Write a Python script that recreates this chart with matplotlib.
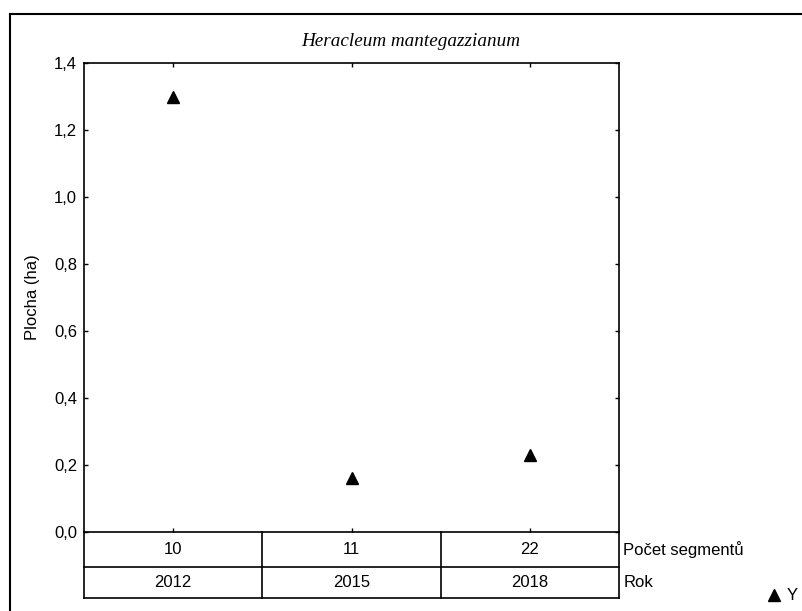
import matplotlib.pyplot as plt
from matplotlib.lines import Line2D
from matplotlib.ticker import FuncFormatter

segments = ['10', '11', '22']
years = ['2012', '2015', '2018']
area = [1.30, 0.16, 0.23]
row_names = ['Počet segmentů', 'Rok']

plt.rcParams['font.family'] = ['Liberation Sans', 'DejaVu Sans']
FS = 12

fig = plt.figure(figsize=(8.02, 6.11), dpi=100)
ax = fig.add_axes([84/802, 79/611, 535/802, 469/611])

x = list(range(len(area)))
ax.plot(x, area, linestyle='none', marker='^', ms=8.5, color='black')

ax.set_xlim(-0.5, len(area) - 0.5)
ax.set_ylim(0, 1.4)
ax.set_yticks([0, 0.2, 0.4, 0.6, 0.8, 1.0, 1.2, 1.4])
ax.yaxis.set_major_formatter(FuncFormatter(lambda v, p: f'{v:.1f}'.replace('.', ',')))
ax.set_xticks(x)
ax.set_xticklabels([])
ax.tick_params(direction='in', length=3, width=1, top=True, right=True,
               labelsize=FS, pad=5)
for s in ax.spines.values():
    s.set_linewidth(1.2)

ax.set_ylabel('Plocha (ha)', fontsize=FS, labelpad=10)
fig.text(411/802, 1 - 41/611, 'Heracleum mantegazzianum', ha='center', va='center',
         fontsize=13.8, style='italic', family='Liberation Serif')

# table under the axis
tr = ax.get_xaxis_transform()
r1, r2 = -35/469, -66/469
kw = dict(color='black', lw=1.2, transform=tr, clip_on=False)
for yy in (r1, r2):
    ax.add_line(Line2D([-0.5, 2.5], [yy, yy], **kw))
for xx in (-0.5, 0.5, 1.5, 2.5):
    ax.add_line(Line2D([xx, xx], [0, r2], **kw))
for i in x:
    ax.text(i, r1 / 2, segments[i], transform=tr, ha='center', va='center', fontsize=FS)
    ax.text(i, (r1 + r2) / 2, years[i], transform=tr, ha='center', va='center', fontsize=FS)
ax.text(2.525, r1 / 2, row_names[0], transform=tr, ha='left', va='center', fontsize=FS)
ax.text(2.525, (r1 + r2) / 2, row_names[1], transform=tr, ha='left', va='center', fontsize=FS)

# legend
fig.add_artist(Line2D([774/802], [1 - 595/611], marker='^', ms=8, color='black',
                      linestyle='none', transform=fig.transFigure))
fig.text(787/802, 1 - 595/611, 'Y', ha='left', va='center', fontsize=FS)

# outer frame
fkw = dict(color='black', lw=1.5, transform=fig.transFigure)
fig.add_artist(Line2D([10/802, 10/802], [0, 1 - 14/611], **fkw))
fig.add_artist(Line2D([10/802, 1], [1 - 14/611, 1 - 14/611], **fkw))

fig.savefig('out.png', dpi=100)
